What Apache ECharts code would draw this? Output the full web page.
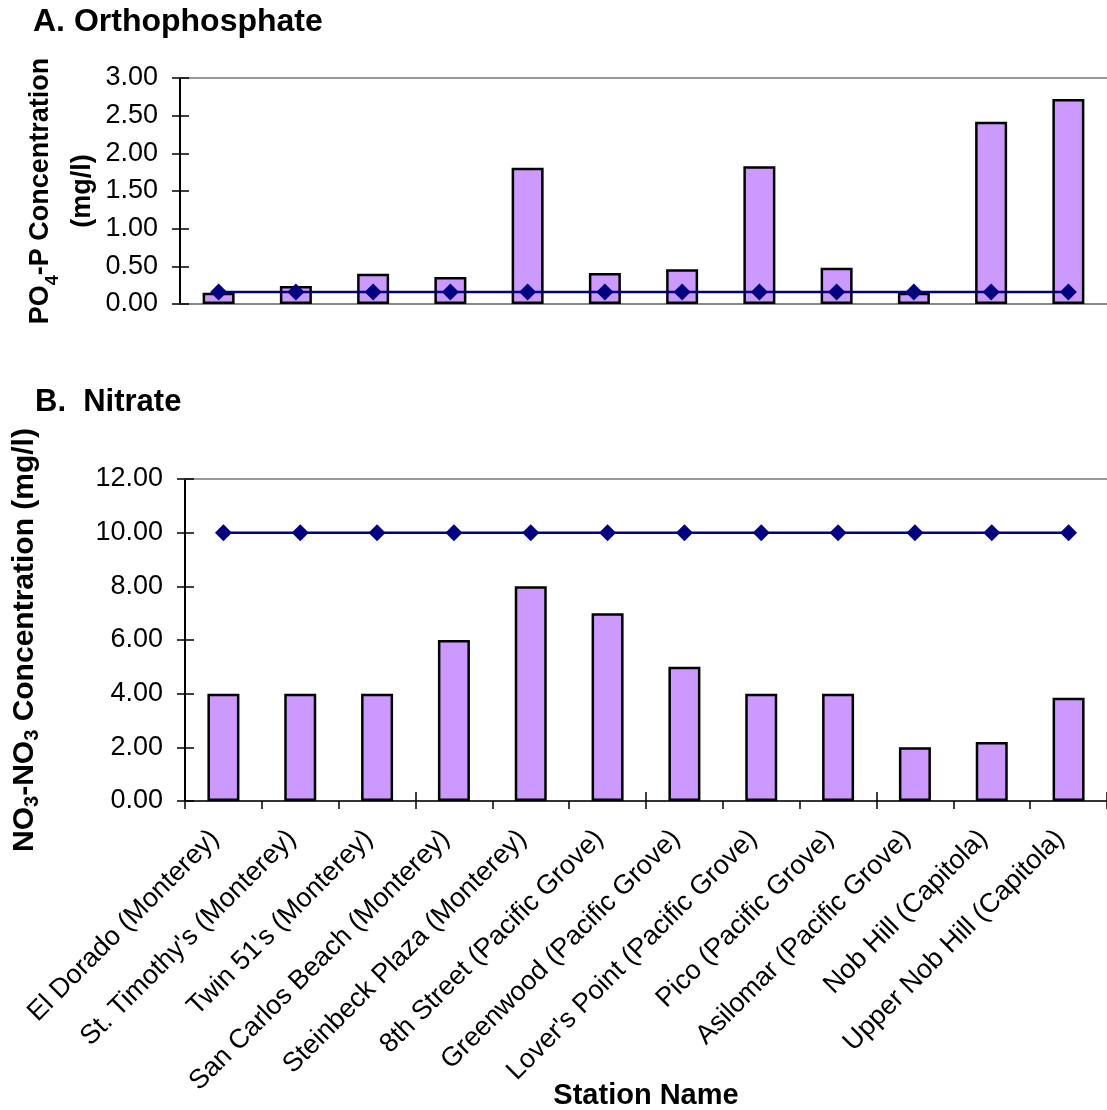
<!DOCTYPE html>
<html>
<head>
<meta charset="utf-8">
<script src="https://cdn.jsdelivr.net/npm/echarts@6/dist/echarts.min.js"></script>
<style>
html,body{margin:0;padding:0;background:#fff;}
#chart{width:1107px;height:1110px;}
</style>
</head>
<body>
<div id="chart"></div>
<script>
const stations = ["El Dorado (Monterey)", "St. Timothy's (Monterey)", "Twin 51's (Monterey)", "San Carlos Beach (Monterey)", "Steinbeck Plaza (Monterey)", "8th Street (Pacific Grove)", "Greenwood (Pacific Grove)", "Lover's Point (Pacific Grove)", "Pico (Pacific Grove)", "Asilomar (Pacific Grove)", "Nob Hill (Capitola)", "Upper Nob Hill (Capitola)"];
const phosphate = [0.15, 0.24, 0.40, 0.36, 1.81, 0.41, 0.46, 1.83, 0.48, 0.15, 2.42, 2.72];
const phosphateLimit = [0.16, 0.16, 0.16, 0.16, 0.16, 0.16, 0.16, 0.16, 0.16, 0.16, 0.16, 0.16];
const nitrate = [4.0, 4.0, 4.0, 6.0, 8.0, 7.0, 5.0, 4.0, 4.0, 2.0, 2.2, 3.85];
const nitrateLimit = [10, 10, 10, 10, 10, 10, 10, 10, 10, 10, 10, 10];
const phosphateTicks = {min: 0, max: 3, interval: 0.5};
const nitrateTicks = {min: 0, max: 12, interval: 2};

const FONT = "'Liberation Sans', Arial, sans-serif";
const chart = echarts.init(document.getElementById('chart'));

const hiddenCat = (gridIndex, position, color) => ({
  type: 'category', gridIndex, position, data: stations,
  axisLine: {show: true, onZero: false, lineStyle: {color, width: 2}},
  axisTick: {show: false}, axisLabel: {show: false}, splitLine: {show: false}
});

const makeRich = (size, lh) => ({
  b: {fontSize: size, fontWeight: 'bold', fontFamily: FONT, color: '#000', lineHeight: lh},
  s: {fontSize: Math.round(size * 0.65), fontWeight: 'bold', fontFamily: FONT, color: '#000', lineHeight: Math.round(size * 0.65), verticalAlign: 'bottom'}
});

const valueAxis = (gridIndex, ticks, name, nameGap, rich) => ({
  type: 'value', gridIndex, position: 'left',
  min: ticks.min, max: ticks.max, interval: ticks.interval,
  axisLine: {show: true, onZero: false, lineStyle: {color: '#000', width: 2}},
  axisTick: {show: true, inside: false, length: 8, lineStyle: {color: '#000', width: 1.5}},
  axisLabel: {margin: 22, fontSize: 27, fontFamily: FONT, color: '#000', formatter: v => v.toFixed(2)},
  splitLine: {show: false},
  name, nameLocation: 'middle', nameRotate: 90, nameGap, nameMoveOverlap: false,
  nameTextStyle: {rich, align: 'center'}
});
const innerTicks = (gridIndex, ticks) => ({
  type: 'value', gridIndex, position: 'left',
  min: ticks.min, max: ticks.max, interval: ticks.interval,
  axisLine: {show: false, onZero: false},
  axisTick: {show: true, inside: true, length: 9, lineStyle: {color: '#000', width: 1.5}},
  axisLabel: {show: false}, splitLine: {show: false}
});

const option = {
  backgroundColor: '#fff',
  animation: false,
  title: [
    {text: 'A. Orthophosphate', left: 28, top: 1, textStyle: {fontSize: 32, fontWeight: 'bold', fontFamily: FONT, color: '#000'}},
    {text: 'B.  Nitrate', left: 30, top: 382, textStyle: {fontSize: 31, fontWeight: 'bold', fontFamily: FONT, color: '#000'}}
  ],
  grid: [
    {left: 180, right: 0, top: 78, height: 226, containLabel: false, outerBoundsMode: 'none'},
    {left: 185, right: 0, top: 479, height: 322, containLabel: false, outerBoundsMode: 'none'}
  ],
  xAxis: [
    hiddenCat(0, 'bottom', '#888'),
    hiddenCat(0, 'top', '#999'),
    {
      type: 'category', gridIndex: 1, position: 'bottom', data: stations,
      axisLine: {show: true, onZero: false, lineStyle: {color: '#333', width: 2}},
      axisTick: {show: true, inside: false, length: 8, lineStyle: {color: '#000', width: 1.5}},
      axisLabel: {rotate: 45, margin: 25, padding: [0, 12, 0, 0], fontSize: 27, fontFamily: FONT, color: '#000', interval: 0},
      splitLine: {show: false},
      name: 'Station Name', nameLocation: 'middle', nameGap: 280, nameMoveOverlap: false,
      nameTextStyle: {fontSize: 29, fontWeight: 'bold', fontFamily: FONT, color: '#000'}
    },
    {
      type: 'category', gridIndex: 1, position: 'bottom', data: stations,
      axisLine: {show: false, onZero: false},
      axisTick: {show: true, inside: true, length: 9, lineStyle: {color: '#000', width: 1.5}},
      axisLabel: {show: false}, splitLine: {show: false}
    },
    hiddenCat(1, 'top', '#999')
  ],
  yAxis: [
    valueAxis(0, phosphateTicks, '{b|PO}{s|4}{b|-P Concentration}\n{b|(mg/l)}', 76, makeRich(27, 42)),
    innerTicks(0, phosphateTicks),
    valueAxis(1, nitrateTicks, '{b|NO}{s|3}{b|-NO}{s|3}{b| Concentration (mg/l)}', 143, makeRich(30, 34)),
    innerTicks(1, nitrateTicks)
  ],
  series: [
    {type: 'bar', xAxisIndex: 0, yAxisIndex: 0, data: phosphate, barWidth: 32,
     itemStyle: {color: '#CC99FF', borderColor: '#000', borderWidth: 2.5}, z: 2},
    {type: 'line', xAxisIndex: 0, yAxisIndex: 0, data: phosphateLimit, symbol: 'diamond', symbolSize: 17,
     itemStyle: {color: '#000080'}, lineStyle: {color: '#000080', width: 2.5}, z: 5},
    {type: 'bar', xAxisIndex: 2, yAxisIndex: 2, data: nitrate, barWidth: 32,
     itemStyle: {color: '#CC99FF', borderColor: '#000', borderWidth: 2.5}, z: 2},
    {type: 'line', xAxisIndex: 2, yAxisIndex: 2, data: nitrateLimit, symbol: 'diamond', symbolSize: 17,
     itemStyle: {color: '#000080'}, lineStyle: {color: '#000080', width: 2.5}, z: 5}
  ]
};
chart.setOption(option);
</script>
</body>
</html>
